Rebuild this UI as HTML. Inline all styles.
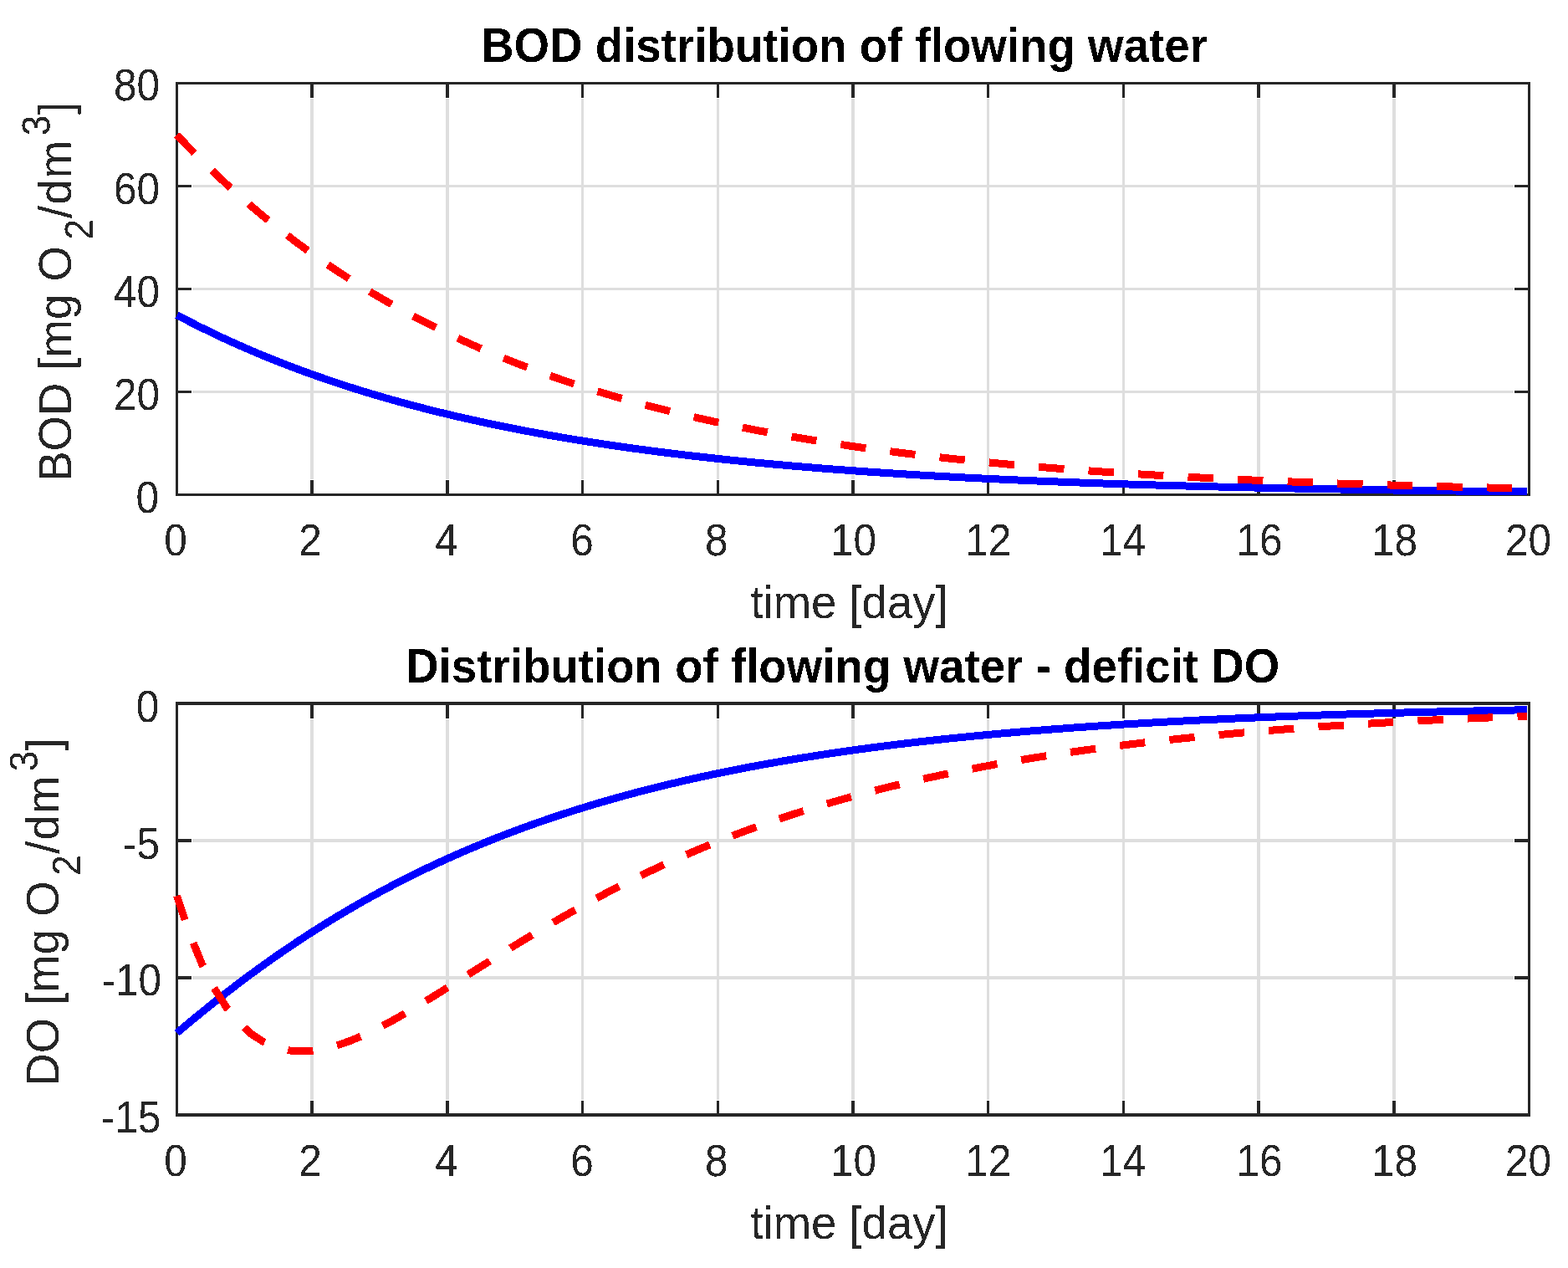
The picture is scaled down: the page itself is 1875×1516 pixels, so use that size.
<!DOCTYPE html>
<html><head><meta charset="utf-8"><title>BOD / DO distribution</title><style>html,body{margin:0;padding:0;background:#fff;}svg{display:block;}</style></head><body><svg width="1875" height="1516" viewBox="0 0 1875 1516"><defs><clipPath id="clipR"><rect x="0" y="0" width="1826" height="1516"/></clipPath><filter id="crisp" x="0" y="0" width="1875" height="1516" filterUnits="userSpaceOnUse"><feComponentTransfer><feFuncA type="discrete" tableValues="0 1"/></feComponentTransfer></filter></defs><rect width="1875" height="1516" fill="#fff"/>
<rect x="371" y="118" width="4" height="455" fill="#dedede"/>
<rect x="533" y="118" width="4" height="455" fill="#dedede"/>
<rect x="695" y="118" width="3" height="455" fill="#dedede"/>
<rect x="857" y="118" width="3" height="455" fill="#dedede"/>
<rect x="1018" y="118" width="4" height="455" fill="#dedede"/>
<rect x="1180" y="118" width="3" height="455" fill="#dedede"/>
<rect x="1342" y="118" width="3" height="455" fill="#dedede"/>
<rect x="1503" y="118" width="4" height="455" fill="#dedede"/>
<rect x="1665" y="118" width="4" height="455" fill="#dedede"/>
<rect x="230" y="467" width="1580" height="3" fill="#dedede"/>
<rect x="230" y="344" width="1580" height="3" fill="#dedede"/>
<rect x="230" y="221" width="1580" height="3" fill="#dedede"/>
<rect x="210" y="98" width="1620" height="3" fill="#262626"/>
<rect x="210" y="590" width="1620" height="3" fill="#262626"/>
<rect x="210" y="98" width="3" height="495" fill="#262626"/>
<rect x="1827" y="98" width="3" height="495" fill="#262626"/>
<rect x="371" y="101" width="4" height="16" fill="#262626"/>
<rect x="371" y="574" width="4" height="16" fill="#262626"/>
<rect x="533" y="101" width="4" height="16" fill="#262626"/>
<rect x="533" y="574" width="4" height="16" fill="#262626"/>
<rect x="695" y="101" width="3" height="16" fill="#262626"/>
<rect x="695" y="574" width="3" height="16" fill="#262626"/>
<rect x="857" y="101" width="3" height="16" fill="#262626"/>
<rect x="857" y="574" width="3" height="16" fill="#262626"/>
<rect x="1018" y="101" width="4" height="16" fill="#262626"/>
<rect x="1018" y="574" width="4" height="16" fill="#262626"/>
<rect x="1180" y="101" width="3" height="16" fill="#262626"/>
<rect x="1180" y="574" width="3" height="16" fill="#262626"/>
<rect x="1342" y="101" width="3" height="16" fill="#262626"/>
<rect x="1342" y="574" width="3" height="16" fill="#262626"/>
<rect x="1503" y="101" width="4" height="16" fill="#262626"/>
<rect x="1503" y="574" width="4" height="16" fill="#262626"/>
<rect x="1665" y="101" width="4" height="16" fill="#262626"/>
<rect x="1665" y="574" width="4" height="16" fill="#262626"/>
<rect x="213" y="467" width="16" height="3" fill="#262626"/>
<rect x="1811" y="467" width="16" height="3" fill="#262626"/>
<rect x="213" y="344" width="16" height="3" fill="#262626"/>
<rect x="1811" y="344" width="16" height="3" fill="#262626"/>
<rect x="213" y="221" width="16" height="3" fill="#262626"/>
<rect x="1811" y="221" width="16" height="3" fill="#262626"/>
<rect x="371" y="860" width="4" height="455" fill="#dedede"/>
<rect x="533" y="860" width="4" height="455" fill="#dedede"/>
<rect x="695" y="860" width="3" height="455" fill="#dedede"/>
<rect x="857" y="860" width="3" height="455" fill="#dedede"/>
<rect x="1018" y="860" width="4" height="455" fill="#dedede"/>
<rect x="1180" y="860" width="3" height="455" fill="#dedede"/>
<rect x="1342" y="860" width="3" height="455" fill="#dedede"/>
<rect x="1503" y="860" width="4" height="455" fill="#dedede"/>
<rect x="1665" y="860" width="4" height="455" fill="#dedede"/>
<rect x="230" y="1003" width="1580" height="4" fill="#dedede"/>
<rect x="230" y="1167" width="1580" height="4" fill="#dedede"/>
<rect x="210" y="839" width="1620" height="4" fill="#262626"/>
<rect x="210" y="1331" width="1620" height="4" fill="#262626"/>
<rect x="210" y="839" width="3" height="496" fill="#262626"/>
<rect x="1827" y="839" width="3" height="496" fill="#262626"/>
<rect x="371" y="843" width="4" height="16" fill="#262626"/>
<rect x="371" y="1316" width="4" height="15" fill="#262626"/>
<rect x="533" y="843" width="4" height="16" fill="#262626"/>
<rect x="533" y="1316" width="4" height="15" fill="#262626"/>
<rect x="695" y="843" width="3" height="16" fill="#262626"/>
<rect x="695" y="1316" width="3" height="15" fill="#262626"/>
<rect x="857" y="843" width="3" height="16" fill="#262626"/>
<rect x="857" y="1316" width="3" height="15" fill="#262626"/>
<rect x="1018" y="843" width="4" height="16" fill="#262626"/>
<rect x="1018" y="1316" width="4" height="15" fill="#262626"/>
<rect x="1180" y="843" width="3" height="16" fill="#262626"/>
<rect x="1180" y="1316" width="3" height="15" fill="#262626"/>
<rect x="1342" y="843" width="3" height="16" fill="#262626"/>
<rect x="1342" y="1316" width="3" height="15" fill="#262626"/>
<rect x="1503" y="843" width="4" height="16" fill="#262626"/>
<rect x="1503" y="1316" width="4" height="15" fill="#262626"/>
<rect x="1665" y="843" width="4" height="16" fill="#262626"/>
<rect x="1665" y="1316" width="4" height="15" fill="#262626"/>
<rect x="213" y="1003" width="16" height="4" fill="#262626"/>
<rect x="1811" y="1003" width="16" height="4" fill="#262626"/>
<rect x="213" y="1167" width="16" height="4" fill="#262626"/>
<rect x="1811" y="1167" width="16" height="4" fill="#262626"/>
<g clip-path="url(#clipR)"><g transform="translate(0,0.4)" fill="none" stroke-linejoin="round" shape-rendering="crispEdges">
<polyline points="211.50,376.25 226.33,384.01 241.17,391.48 256.00,398.69 270.84,405.64 285.67,412.33 300.51,418.79 315.34,425.01 330.18,431.01 345.01,436.79 359.85,442.37 374.68,447.74 389.52,452.92 404.35,457.92 419.19,462.73 434.02,467.37 448.86,471.84 463.69,476.15 478.53,480.31 493.36,484.32 508.20,488.18 523.03,491.90 537.87,495.49 552.70,498.95 567.54,502.28 582.37,505.50 597.21,508.60 612.04,511.58 626.88,514.46 641.71,517.24 656.55,519.92 671.38,522.49 686.22,524.98 701.05,527.38 715.89,529.69 730.72,531.92 745.56,534.06 760.39,536.13 775.22,538.13 790.06,540.05 804.89,541.90 819.73,543.69 834.56,545.41 849.40,547.07 864.23,548.68 879.07,550.22 893.90,551.71 908.74,553.14 923.57,554.52 938.41,555.85 953.24,557.14 968.08,558.38 982.91,559.57 997.75,560.72 1012.58,561.83 1027.42,562.90 1042.25,563.93 1057.09,564.92 1071.92,565.88 1086.76,566.80 1101.59,567.69 1116.43,568.55 1131.26,569.38 1146.10,570.18 1160.93,570.94 1175.77,571.68 1190.60,572.40 1205.44,573.09 1220.27,573.75 1235.11,574.39 1249.94,575.01 1264.78,575.60 1279.61,576.17 1294.44,576.73 1309.28,577.26 1324.11,577.77 1338.95,578.27 1353.78,578.74 1368.62,579.20 1383.45,579.65 1398.29,580.07 1413.12,580.48 1427.96,580.88 1442.79,581.26 1457.63,581.63 1472.46,581.99 1487.30,582.33 1502.13,582.66 1516.97,582.98 1531.80,583.29 1546.64,583.58 1561.47,583.87 1576.31,584.14 1591.14,584.41 1605.98,584.66 1620.81,584.91 1635.65,585.15 1650.48,585.38 1665.32,585.60 1680.15,585.81 1694.99,586.01 1709.82,586.21 1724.66,586.40 1739.49,586.59 1754.33,586.76 1769.16,586.93 1784.00,587.10 1798.83,587.26 1813.67,587.41 1828.50,587.56" stroke="#0000ff" stroke-width="9.0" stroke-linecap="butt"/>
<polyline points="211.50,161.00 226.33,176.51 241.17,191.46 256.00,205.88 270.84,219.77 285.67,233.17 300.51,246.08 315.34,258.53 330.18,270.52 345.01,282.09 359.85,293.24 374.68,303.98 389.52,314.34 404.35,324.33 419.19,333.96 434.02,343.24 448.86,352.18 463.69,360.81 478.53,369.12 493.36,377.13 508.20,384.85 523.03,392.30 537.87,399.48 552.70,406.40 567.54,413.07 582.37,419.50 597.21,425.69 612.04,431.67 626.88,437.43 641.71,442.98 656.55,448.33 671.38,453.49 686.22,458.46 701.05,463.26 715.89,467.88 730.72,472.33 745.56,476.62 760.39,480.76 775.22,484.75 790.06,488.60 804.89,492.31 819.73,495.88 834.56,499.33 849.40,502.65 864.23,505.85 879.07,508.94 893.90,511.91 908.74,514.78 923.57,517.54 938.41,520.21 953.24,522.78 968.08,525.25 982.91,527.64 997.75,529.94 1012.58,532.16 1027.42,534.30 1042.25,536.36 1057.09,538.35 1071.92,540.26 1086.76,542.11 1101.59,543.89 1116.43,545.60 1131.26,547.26 1146.10,548.85 1160.93,550.39 1175.77,551.87 1190.60,553.30 1205.44,554.67 1220.27,556.00 1235.11,557.28 1249.94,558.51 1264.78,559.70 1279.61,560.85 1294.44,561.95 1309.28,563.02 1324.11,564.04 1338.95,565.03 1353.78,565.99 1368.62,566.90 1383.45,567.79 1398.29,568.65 1413.12,569.47 1427.96,570.26 1442.79,571.03 1457.63,571.77 1472.46,572.48 1487.30,573.16 1502.13,573.82 1516.97,574.46 1531.80,575.07 1546.64,575.67 1561.47,576.24 1576.31,576.79 1591.14,577.32 1605.98,577.83 1620.81,578.32 1635.65,578.79 1650.48,579.25 1665.32,579.69 1680.15,580.12 1694.99,580.53 1709.82,580.92 1724.66,581.31 1739.49,581.67 1754.33,582.03 1769.16,582.37 1784.00,582.70 1798.83,583.01 1813.67,583.32 1828.50,583.62" stroke="#ff0000" stroke-width="9.0" stroke-dasharray="30.4 29.2" stroke-linecap="butt"/>
<polyline points="211.50,1234.60 226.33,1222.15 241.17,1209.96 256.00,1198.04 270.84,1186.40 285.67,1175.05 300.51,1163.98 315.34,1153.21 330.18,1142.72 345.01,1132.53 359.85,1122.62 374.68,1113.01 389.52,1103.67 404.35,1094.62 419.19,1085.84 434.02,1077.33 448.86,1069.09 463.69,1061.11 478.53,1053.38 493.36,1045.91 508.20,1038.68 523.03,1031.68 537.87,1024.92 552.70,1018.38 567.54,1012.07 582.37,1005.96 597.21,1000.07 612.04,994.37 626.88,988.88 641.71,983.57 656.55,978.44 671.38,973.49 686.22,968.72 701.05,964.11 715.89,959.67 730.72,955.38 745.56,951.24 760.39,947.25 775.22,943.40 790.06,939.69 804.89,936.11 819.73,932.65 834.56,929.32 849.40,926.11 864.23,923.02 879.07,920.03 893.90,917.16 908.74,914.38 923.57,911.71 938.41,909.13 953.24,906.65 968.08,904.26 982.91,901.95 997.75,899.72 1012.58,897.58 1027.42,895.52 1042.25,893.52 1057.09,891.61 1071.92,889.76 1086.76,887.98 1101.59,886.26 1116.43,884.61 1131.26,883.01 1146.10,881.48 1160.93,880.00 1175.77,878.57 1190.60,877.20 1205.44,875.87 1220.27,874.60 1235.11,873.37 1249.94,872.18 1264.78,871.04 1279.61,869.94 1294.44,868.88 1309.28,867.86 1324.11,866.88 1338.95,865.93 1353.78,865.02 1368.62,864.14 1383.45,863.29 1398.29,862.48 1413.12,861.69 1427.96,860.93 1442.79,860.20 1457.63,859.50 1472.46,858.82 1487.30,858.17 1502.13,857.54 1516.97,856.94 1531.80,856.35 1546.64,855.79 1561.47,855.25 1576.31,854.73 1591.14,854.22 1605.98,853.74 1620.81,853.27 1635.65,852.82 1650.48,852.39 1665.32,851.97 1680.15,851.57 1694.99,851.18 1709.82,850.81 1724.66,850.45 1739.49,850.11 1754.33,849.77 1769.16,849.45 1784.00,849.14 1798.83,848.84 1813.67,848.56 1828.50,848.28" stroke="#0000ff" stroke-width="9.0" stroke-linecap="butt"/>
<polyline points="211.50,1070.65 226.33,1115.13 241.17,1151.51 256.00,1180.87 270.84,1204.17 285.67,1222.23 300.51,1235.80 315.34,1245.50 330.18,1251.89 345.01,1255.45 359.85,1256.61 374.68,1255.73 389.52,1253.12 404.35,1249.08 419.19,1243.84 434.02,1237.60 448.86,1230.55 463.69,1222.86 478.53,1214.64 493.36,1206.02 508.20,1197.10 523.03,1187.97 537.87,1178.70 552.70,1169.35 567.54,1159.98 582.37,1150.63 597.21,1141.34 612.04,1132.15 626.88,1123.07 641.71,1114.14 656.55,1105.36 671.38,1096.76 686.22,1088.35 701.05,1080.13 715.89,1072.11 730.72,1064.30 745.56,1056.70 760.39,1049.31 775.22,1042.13 790.06,1035.16 804.89,1028.40 819.73,1021.85 834.56,1015.50 849.40,1009.35 864.23,1003.40 879.07,997.65 893.90,992.08 908.74,986.70 923.57,981.50 938.41,976.47 953.24,971.62 968.08,966.93 982.91,962.41 997.75,958.04 1012.58,953.82 1027.42,949.75 1042.25,945.82 1057.09,942.04 1071.92,938.38 1086.76,934.86 1101.59,931.46 1116.43,928.18 1131.26,925.02 1146.10,921.97 1160.93,919.03 1175.77,916.20 1190.60,913.47 1205.44,910.83 1220.27,908.30 1235.11,905.85 1249.94,903.49 1264.78,901.22 1279.61,899.03 1294.44,896.91 1309.28,894.88 1324.11,892.92 1338.95,891.03 1353.78,889.21 1368.62,887.45 1383.45,885.76 1398.29,884.13 1413.12,882.56 1427.96,881.04 1442.79,879.58 1457.63,878.18 1472.46,876.82 1487.30,875.52 1502.13,874.26 1516.97,873.05 1531.80,871.88 1546.64,870.75 1561.47,869.67 1576.31,868.62 1591.14,867.62 1605.98,866.65 1620.81,865.71 1635.65,864.81 1650.48,863.94 1665.32,863.11 1680.15,862.30 1694.99,861.52 1709.82,860.77 1724.66,860.05 1739.49,859.36 1754.33,858.69 1769.16,858.04 1784.00,857.42 1798.83,856.82 1813.67,856.25 1828.50,855.69" stroke="#ff0000" stroke-width="9.0" stroke-dasharray="30.4 29.2" stroke-linecap="butt"/>
</g></g>
<g filter="url(#crisp)">
<text transform="translate(210.00,663.60) scale(1,1.07)" font-family="Liberation Sans, Arial, Helvetica, sans-serif" font-size="49.5" fill="#262626" text-anchor="middle">0</text>
<text transform="translate(210.00,1405.90) scale(1,1.07)" font-family="Liberation Sans, Arial, Helvetica, sans-serif" font-size="49.5" fill="#262626" text-anchor="middle">0</text>
<text transform="translate(371.00,663.60) scale(1,1.07)" font-family="Liberation Sans, Arial, Helvetica, sans-serif" font-size="49.5" fill="#262626" text-anchor="middle">2</text>
<text transform="translate(371.00,1405.90) scale(1,1.07)" font-family="Liberation Sans, Arial, Helvetica, sans-serif" font-size="49.5" fill="#262626" text-anchor="middle">2</text>
<text transform="translate(534.00,663.60) scale(1,1.07)" font-family="Liberation Sans, Arial, Helvetica, sans-serif" font-size="49.5" fill="#262626" text-anchor="middle">4</text>
<text transform="translate(534.00,1405.90) scale(1,1.07)" font-family="Liberation Sans, Arial, Helvetica, sans-serif" font-size="49.5" fill="#262626" text-anchor="middle">4</text>
<text transform="translate(696.10,663.60) scale(1,1.07)" font-family="Liberation Sans, Arial, Helvetica, sans-serif" font-size="49.5" fill="#262626" text-anchor="middle">6</text>
<text transform="translate(696.10,1405.90) scale(1,1.07)" font-family="Liberation Sans, Arial, Helvetica, sans-serif" font-size="49.5" fill="#262626" text-anchor="middle">6</text>
<text transform="translate(856.80,663.60) scale(1,1.07)" font-family="Liberation Sans, Arial, Helvetica, sans-serif" font-size="49.5" fill="#262626" text-anchor="middle">8</text>
<text transform="translate(856.80,1405.90) scale(1,1.07)" font-family="Liberation Sans, Arial, Helvetica, sans-serif" font-size="49.5" fill="#262626" text-anchor="middle">8</text>
<text transform="translate(1020.40,663.60) scale(1,1.07)" font-family="Liberation Sans, Arial, Helvetica, sans-serif" font-size="49.5" fill="#262626" text-anchor="middle">10</text>
<text transform="translate(1020.40,1405.90) scale(1,1.07)" font-family="Liberation Sans, Arial, Helvetica, sans-serif" font-size="49.5" fill="#262626" text-anchor="middle">10</text>
<text transform="translate(1181.70,663.60) scale(1,1.07)" font-family="Liberation Sans, Arial, Helvetica, sans-serif" font-size="49.5" fill="#262626" text-anchor="middle">12</text>
<text transform="translate(1181.70,1405.90) scale(1,1.07)" font-family="Liberation Sans, Arial, Helvetica, sans-serif" font-size="49.5" fill="#262626" text-anchor="middle">12</text>
<text transform="translate(1342.70,663.60) scale(1,1.07)" font-family="Liberation Sans, Arial, Helvetica, sans-serif" font-size="49.5" fill="#262626" text-anchor="middle">14</text>
<text transform="translate(1342.70,1405.90) scale(1,1.07)" font-family="Liberation Sans, Arial, Helvetica, sans-serif" font-size="49.5" fill="#262626" text-anchor="middle">14</text>
<text transform="translate(1506.00,663.60) scale(1,1.07)" font-family="Liberation Sans, Arial, Helvetica, sans-serif" font-size="49.5" fill="#262626" text-anchor="middle">16</text>
<text transform="translate(1506.00,1405.90) scale(1,1.07)" font-family="Liberation Sans, Arial, Helvetica, sans-serif" font-size="49.5" fill="#262626" text-anchor="middle">16</text>
<text transform="translate(1667.50,663.60) scale(1,1.07)" font-family="Liberation Sans, Arial, Helvetica, sans-serif" font-size="49.5" fill="#262626" text-anchor="middle">18</text>
<text transform="translate(1667.50,1405.90) scale(1,1.07)" font-family="Liberation Sans, Arial, Helvetica, sans-serif" font-size="49.5" fill="#262626" text-anchor="middle">18</text>
<text transform="translate(1827.50,663.60) scale(1,1.07)" font-family="Liberation Sans, Arial, Helvetica, sans-serif" font-size="49.5" fill="#262626" text-anchor="middle">20</text>
<text transform="translate(1827.50,1405.90) scale(1,1.07)" font-family="Liberation Sans, Arial, Helvetica, sans-serif" font-size="49.5" fill="#262626" text-anchor="middle">20</text>
<text transform="translate(190.00,612.50) scale(1,1.07)" font-family="Liberation Sans, Arial, Helvetica, sans-serif" font-size="49.5" fill="#262626" text-anchor="end">0</text>
<text transform="translate(191.00,489.50) scale(1,1.07)" font-family="Liberation Sans, Arial, Helvetica, sans-serif" font-size="49.5" fill="#262626" text-anchor="end">20</text>
<text transform="translate(191.00,366.50) scale(1,1.07)" font-family="Liberation Sans, Arial, Helvetica, sans-serif" font-size="49.5" fill="#262626" text-anchor="end">40</text>
<text transform="translate(191.00,243.50) scale(1,1.07)" font-family="Liberation Sans, Arial, Helvetica, sans-serif" font-size="49.5" fill="#262626" text-anchor="end">60</text>
<text transform="translate(191.00,120.00) scale(1,1.07)" font-family="Liberation Sans, Arial, Helvetica, sans-serif" font-size="49.5" fill="#262626" text-anchor="end">80</text>
<text transform="translate(190.30,862.80) scale(1,1.07)" font-family="Liberation Sans, Arial, Helvetica, sans-serif" font-size="49.5" fill="#262626" text-anchor="end">0</text>
<text transform="translate(191.00,1027.20) scale(1,1.07)" font-family="Liberation Sans, Arial, Helvetica, sans-serif" font-size="49.5" fill="#262626" text-anchor="end">-5</text>
<text transform="translate(193.00,1190.00) scale(1,1.07)" font-family="Liberation Sans, Arial, Helvetica, sans-serif" font-size="49.5" fill="#262626" text-anchor="end">-10</text>
<text transform="translate(192.50,1354.00) scale(1,1.07)" font-family="Liberation Sans, Arial, Helvetica, sans-serif" font-size="49.5" fill="#262626" text-anchor="end">-15</text>
<text transform="translate(1015.50,739.00) scale(1,1.025)" font-family="Liberation Sans, Arial, Helvetica, sans-serif" font-size="54.5" fill="#262626" text-anchor="middle">time [day]</text>
<text transform="translate(1015.50,1481.20) scale(1,1.025)" font-family="Liberation Sans, Arial, Helvetica, sans-serif" font-size="54.5" fill="#262626" text-anchor="middle">time [day]</text>
<text transform="translate(1009.50,74.00) scale(1,1.035)" font-family="Liberation Sans, Arial, Helvetica, sans-serif" font-size="54.7" font-weight="bold" fill="#000" text-anchor="middle">BOD distribution of flowing water</text>
<text transform="translate(1007.70,815.80) scale(1,1.035)" font-family="Liberation Sans, Arial, Helvetica, sans-serif" font-size="54.7" font-weight="bold" fill="#000" text-anchor="middle">Distribution of flowing water - deficit DO</text>
<g transform="translate(84.80,0) rotate(-90)">
<text transform="translate(-575.80,0.00) scale(1,1.025)" font-family="Liberation Sans, Arial, Helvetica, sans-serif" font-size="54.5" fill="#262626">BOD [mg O</text>
<text transform="translate(-286.50,26.20) scale(1,1.08)" font-family="Liberation Sans, Arial, Helvetica, sans-serif" font-size="44.0" fill="#262626">2</text>
<text transform="translate(-261.00,0.00) scale(1,1.025)" font-family="Liberation Sans, Arial, Helvetica, sans-serif" font-size="54.5" fill="#262626" letter-spacing="1.1">/dm</text>
<text transform="translate(-162.30,-25.00) scale(1,1.08)" font-family="Liberation Sans, Arial, Helvetica, sans-serif" font-size="44.0" fill="#262626">3</text>
<text transform="translate(-137.00,0.00) scale(1,1.025)" font-family="Liberation Sans, Arial, Helvetica, sans-serif" font-size="54.5" fill="#262626">]</text>
</g>
<g transform="translate(70.00,0) rotate(-90)">
<text transform="translate(-1298.70,0.00) scale(1,1.025)" font-family="Liberation Sans, Arial, Helvetica, sans-serif" font-size="54.5" fill="#262626">DO [mg O</text>
<text transform="translate(-1046.80,26.20) scale(1,1.08)" font-family="Liberation Sans, Arial, Helvetica, sans-serif" font-size="44.0" fill="#262626">2</text>
<text transform="translate(-1020.70,0.00) scale(1,1.025)" font-family="Liberation Sans, Arial, Helvetica, sans-serif" font-size="54.5" fill="#262626" letter-spacing="1.1">/dm</text>
<text transform="translate(-922.30,-25.00) scale(1,1.08)" font-family="Liberation Sans, Arial, Helvetica, sans-serif" font-size="44.0" fill="#262626">3</text>
<text transform="translate(-897.40,0.00) scale(1,1.025)" font-family="Liberation Sans, Arial, Helvetica, sans-serif" font-size="54.5" fill="#262626">]</text>
</g>
</g></svg></body></html>
